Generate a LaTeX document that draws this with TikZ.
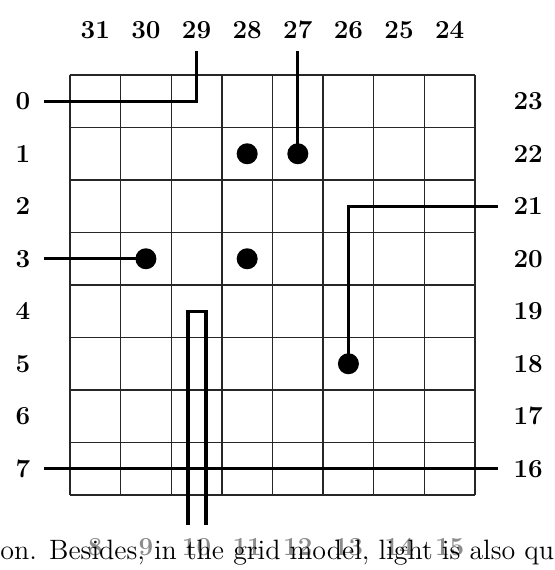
\documentclass[tikz,border=0pt]{standalone}
\usepackage{tikz}
\usetikzlibrary{positioning}
\tikzset{
  cell/.style={draw=black!85, line width=0.65pt},
  wire/.style={line width=1.6pt, line join=miter},
  pin/.style={circle, fill=black, inner sep=0pt, minimum size=10.5pt},
  num/.style={font=\fontsize{13}{15}\selectfont\bfseries, inner sep=0pt},
  dim/.style={num, text=black!45},
}

\begin{document}
\begin{tikzpicture}[x=25.3125pt, y=-26.25pt]
    \useasboundingbox (-1.3827,-1.4286) rectangle (9.5802,9.4286);

    % grid
    \foreach \i in {0,...,8} {
      \draw[cell] (\i,0) -- (\i,8);
      \draw[cell] (0,\i) -- (8,\i);
    }

    % port numbers round the grid
    \foreach \c in {0,...,7} {
      \pgfmathtruncatemacro{\t}{31-\c}
      \pgfmathtruncatemacro{\b}{8+\c}
      \pgfmathtruncatemacro{\r}{23-\c}
      \node[num] (n\t) at (\c+0.5,-0.86) {\t};
      \node[dim] (n\b) at (\c+0.5,8.99) {\b};
      \node[num] (n\c) at (-0.93,\c+0.5) {\c};
      \node[num] (n\r) at (9.05,\c+0.5) {\r};
    }

    % page text running under the figure
    \node[anchor=base west, inner sep=0pt, font=\fontsize{14}{16}\selectfont]
          (txt) at (-1.3827,9.22) {on. Besides, in the grid model, light is also qu};

    % pins
    \node[pin] (p28a) at (3.5,1.5) {};
    \node[pin] (p27)  at (4.5,1.5) {};
    \node[pin] (p3)   at (1.5,3.5) {};
    \node[pin] (p28b) at (3.5,3.5) {};
    \node[pin] (p21)  at (5.5,5.5) {};

    % free ends of the wires
    \coordinate (in0)   at (-0.514,0.5);
    \coordinate (out29) at (2.5,-0.45);
    \coordinate (in27)  at (4.5,-0.45);
    \coordinate (in21)  at (8.45,2.5);
    \coordinate (in3)   at (-0.514,3.5);
    \coordinate (in7)   at (-0.514,7.5);
    \coordinate (out16) at (8.45,7.5);
    \coordinate (dn10a) at (2.33,8.57);
    \coordinate (dn10b) at (2.685,8.57);

    % wires
    \draw[wire] (in0) -| (out29);
    \draw[wire] (in27) -- (p27.center);
    \draw[wire] (in21) -| (p21.center);
    \draw[wire] (in3) -- (p3.center);
    \draw[wire] (in7) -- (out16);
    \draw[wire] (dn10a) |- (2.5,4.5) -| (dn10b);
  \end{tikzpicture}
\end{document}
